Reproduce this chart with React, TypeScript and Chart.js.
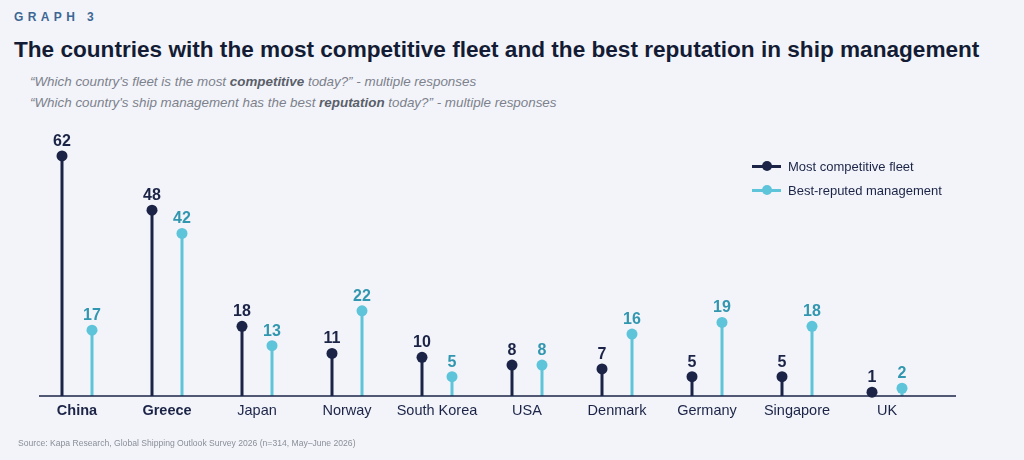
import React, { useEffect, useRef } from "react";
import { Chart, registerables } from "chart.js";

Chart.register(...registerables);

const categories = ["China", "Greece", "Japan", "Norway", "South Korea", "USA", "Denmark", "Germany", "Singapore", "UK"];
const boldCategories = ["China", "Greece"];
const competitiveFleet = [62, 48, 18, 11, 10, 8, 7, 5, 5, 1];
const reputedManagement = [17, 42, 13, 22, 5, 8, 16, 19, 18, 2];
const seriesNames = ["Most competitive fleet", "Best-reputed management"];

const NAVY = "#1b2447";
const CYAN = "#5ec4d9";
const TEAL_TEXT = "#3196af";
const BG = "#f3f4f9";
const FONT = "'Liberation Sans', Arial, Helvetica, sans-serif";

const dotColors = [NAVY, CYAN];
const labelColors = [NAVY, TEAL_TEXT];

const lollipopPlugin = {
  id: "lollipop",
  afterDatasetsDraw(chart: any) {
    const ctx = chart.ctx;
    const xScale = chart.scales.x;
    const yScale = chart.scales.y;
    const base = yScale.getPixelForValue(0);
    ctx.save();
    ctx.strokeStyle = NAVY;
    ctx.lineWidth = 1.5;
    ctx.beginPath();
    ctx.moveTo(xScale.left + 7, base);
    ctx.lineTo(xScale.right + 24, base);
    ctx.stroke();

    chart.data.datasets.forEach((ds: any, di: number) => {
      const meta = chart.getDatasetMeta(di);
      meta.data.forEach((el: any, i: number) => {
        const x = el.x;
        const y = el.y;
        ctx.fillStyle = dotColors[di];
        ctx.beginPath();
        ctx.arc(x, y, 5.5, 0, Math.PI * 2);
        ctx.fill();
        ctx.fillStyle = labelColors[di];
        ctx.font = `bold 16px ${FONT}`;
        ctx.textAlign = "center";
        ctx.textBaseline = "alphabetic";
        ctx.fillText(String(ds.data[i]), x, y - 10);
      });
    });

    categories.forEach((c, i) => {
      const x = xScale.getPixelForValue(i);
      const bold = boldCategories.includes(c);
      ctx.font = `${bold ? "bold " : ""}14.5px ${FONT}`;
      ctx.fillStyle = NAVY;
      ctx.textAlign = "center";
      ctx.textBaseline = "middle";
      ctx.fillText(c, x, base + 15);
    });
    ctx.restore();
  },
};

function LegendItem({ color, label, top }: { color: string; label: string; top: number }) {
  return (
    <div style={{ position: "absolute", left: 752, top, height: 16, display: "flex", alignItems: "center" }}>
      <div style={{ position: "relative", width: 29, height: 16 }}>
        <div style={{ position: "absolute", left: 0, top: 7, width: 29, height: 2.5, background: color }} />
        <div
          style={{ position: "absolute", left: 9.5, top: 3, width: 10, height: 10, borderRadius: 5, background: color }}
        />
      </div>
      <span style={{ marginLeft: 7, fontSize: 13, color: NAVY, fontFamily: FONT, whiteSpace: "nowrap" }}>{label}</span>
    </div>
  );
}

export default function App() {
  const canvasRef = useRef<HTMLCanvasElement | null>(null);

  useEffect(() => {
    document.body.style.margin = "0";
    const canvas = canvasRef.current;
    if (!canvas) return;
    const chart = new Chart(canvas, {
      type: "bar",
      data: {
        labels: categories,
        datasets: [
          {
            label: seriesNames[0],
            data: competitiveFleet,
            backgroundColor: NAVY,
            categoryPercentage: 2 / 3,
            barPercentage: 0.1,
          },
          {
            label: seriesNames[1],
            data: reputedManagement,
            backgroundColor: CYAN,
            categoryPercentage: 2 / 3,
            barPercentage: 0.1,
          },
        ],
      },
      options: {
        responsive: false,
        maintainAspectRatio: false,
        animation: false,
        layout: { padding: { top: 125, bottom: 64, left: 32, right: 92 } },
        plugins: { legend: { display: false }, tooltip: { enabled: false } },
        events: [],
        scales: {
          x: { display: false, offset: true },
          y: { display: false, min: 0, max: 70 },
        },
      },
      plugins: [lollipopPlugin],
    } as any);
    return () => chart.destroy();
  }, []);

  return (
    <div
      style={{
        position: "absolute",
        left: 0,
        top: 0,
        width: 1024,
        height: 460,
        background: BG,
        fontFamily: FONT,
        overflow: "hidden",
      }}
    >
      <div
        style={{
          position: "absolute",
          left: 14,
          top: 10,
          fontSize: 12,
          fontWeight: "bold",
          letterSpacing: 4.4,
          color: "#3c6794",
        }}
      >
        GRAPH 3
      </div>
      <div
        style={{
          position: "absolute",
          left: 14,
          top: 37,
          fontSize: 22.6,
          fontWeight: "bold",
          color: "#141c35",
          whiteSpace: "nowrap",
        }}
      >
        The countries with the most competitive fleet and the best reputation in ship management
      </div>
      <div
        style={{
          position: "absolute",
          left: 30,
          top: 74,
          fontSize: 13.4,
          fontStyle: "italic",
          color: "#7c818c",
          whiteSpace: "nowrap",
        }}
      >
        “Which country's fleet is the most <b style={{ color: "#5a5f6a" }}>competitive</b> today?” - multiple responses
      </div>
      <div
        style={{
          position: "absolute",
          left: 30,
          top: 95,
          fontSize: 13.4,
          fontStyle: "italic",
          color: "#7c818c",
          whiteSpace: "nowrap",
        }}
      >
        “Which country's ship management has the best <b style={{ color: "#5a5f6a" }}>reputation</b> today?” - multiple
        responses
      </div>
      <canvas
        ref={canvasRef}
        width={1024}
        height={460}
        style={{ position: "absolute", left: 0, top: 0, width: 1024, height: 460 }}
      />
      <LegendItem color={NAVY} label={seriesNames[0]} top={158} />
      <LegendItem color={CYAN} label={seriesNames[1]} top={182} />
      <div
        style={{
          position: "absolute",
          left: 18,
          top: 438,
          fontSize: 8.6,
          color: "#8a8f99",
          whiteSpace: "nowrap",
        }}
      >
        Source: Kapa Research, Global Shipping Outlook Survey 2026 (n=314, May–June 2026)
      </div>
    </div>
  );
}
